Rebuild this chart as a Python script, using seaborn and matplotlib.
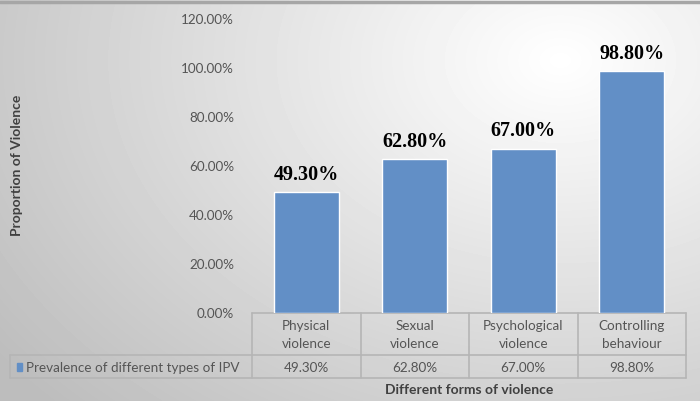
import numpy as np
import pandas as pd
import matplotlib
matplotlib.use("Agg")
import matplotlib.pyplot as plt
import seaborn as sns
from matplotlib.lines import Line2D
from matplotlib.patches import Rectangle

categories = ["Physical\nviolence", "Sexual\nviolence", "Psychological\nviolence", "Controlling\nbehaviour"]
values = [0.493, 0.628, 0.670, 0.988]
series_name = "Prevalence of different types of IPV"
y_ticks = [0.0, 0.2, 0.4, 0.6, 0.8, 1.0, 1.2]
x_title = "Different forms of violence"
y_title = "Proportion of Violence"

sns.set_theme(style="white")
plt.rcParams['font.family'] = ['Lato', 'DejaVu Sans']

W, H = 700, 401
fig = plt.figure(figsize=(7.0, 4.01), dpi=100)

# background gradient
bg = fig.add_axes([0, 0, 1, 1])
yy, xx = np.mgrid[0:H, 0:W]
d = np.sqrt(((xx - 560) / 700.0) ** 2 + ((yy - 60) / 500.0) ** 2)
img = 1.0 - 0.26 * np.clip(d, 0, 1)
bg.imshow(img, cmap="gray", vmin=0, vmax=1, extent=[0, W, H, 0], aspect="auto")
bg.set_xlim(0, W)
bg.set_ylim(H, 0)
bg.axis("off")
bg.add_line(Line2D([0, W], [1.5, 1.5], color="#a6a6a6", lw=2.5))

# main axes
x0, x1 = 252, 686
ytop, ybot = 19, 313
ax = fig.add_axes([x0 / W, (H - ybot) / H, (x1 - x0) / W, (ybot - ytop) / H])
ax.set_facecolor("none")
df = pd.DataFrame({"cat": categories, "val": values})
sns.barplot(data=df, x="cat", y="val", color="#628fc6", saturation=1, width=0.6, ax=ax)
ax.set_ylim(0, 1.2)
ax.set_yticks(y_ticks)
ax.set_yticklabels([f"{t*100:.2f}%" for t in y_ticks], color="#555555", fontsize=9.7)
ax.tick_params(axis="y", length=0, pad=13)
ax.set_xticks([])
ax.set_xlabel("")
ax.set_ylabel("")
for s in ax.spines.values():
    s.set_visible(False)
for i, v in enumerate(values):
    ax.text(i, v + 0.03, f"{v*100:.2f}%", ha="center", va="bottom",
            fontsize=14.5, fontweight="bold", family="Liberation Serif", color="black")

# data table
lc = "#b5b5b5"
colw = (x1 - x0) / len(categories)
yh1, yh2 = 355, 378
tl = 10
for k in range(len(categories) + 1):
    xk = x0 + k * colw
    bg.add_line(Line2D([xk, xk], [ybot, yh2], color=lc, lw=1.2))
bg.add_line(Line2D([tl, tl], [yh1, yh2], color=lc, lw=1.2))
bg.add_line(Line2D([x0, x1], [ybot, ybot], color=lc, lw=1.2))
bg.add_line(Line2D([tl, x1], [yh1, yh1], color=lc, lw=1.2))
bg.add_line(Line2D([tl, x1], [yh2, yh2], color=lc, lw=1.2))
for i, (c, v) in enumerate(zip(categories, values)):
    xc = x0 + (i + 0.5) * colw
    bg.text(xc, (ybot + yh1) / 2 + 1, c, ha="center", va="center", fontsize=9.7,
            color="#555555", linespacing=1.55)
    bg.text(xc, (yh1 + yh2) / 2 + 1, f"{v*100:.2f}%", ha="center", va="center",
            fontsize=9.7, color="#555555")
bg.add_patch(Rectangle((17, 363), 5, 8, color="#628fc6"))
bg.text(26, (yh1 + yh2) / 2 + 1, series_name, ha="left", va="center", fontsize=9.7,
        color="#555555")

bg.text(x0 + 2 * colw, 390, x_title, ha="center", va="center", fontsize=10,
        fontweight="bold", color="#404040")
bg.text(17, 165, y_title, ha="center", va="center", rotation=90, fontsize=10,
        fontweight="bold", color="#404040")

fig.savefig("out.png", dpi=100)
